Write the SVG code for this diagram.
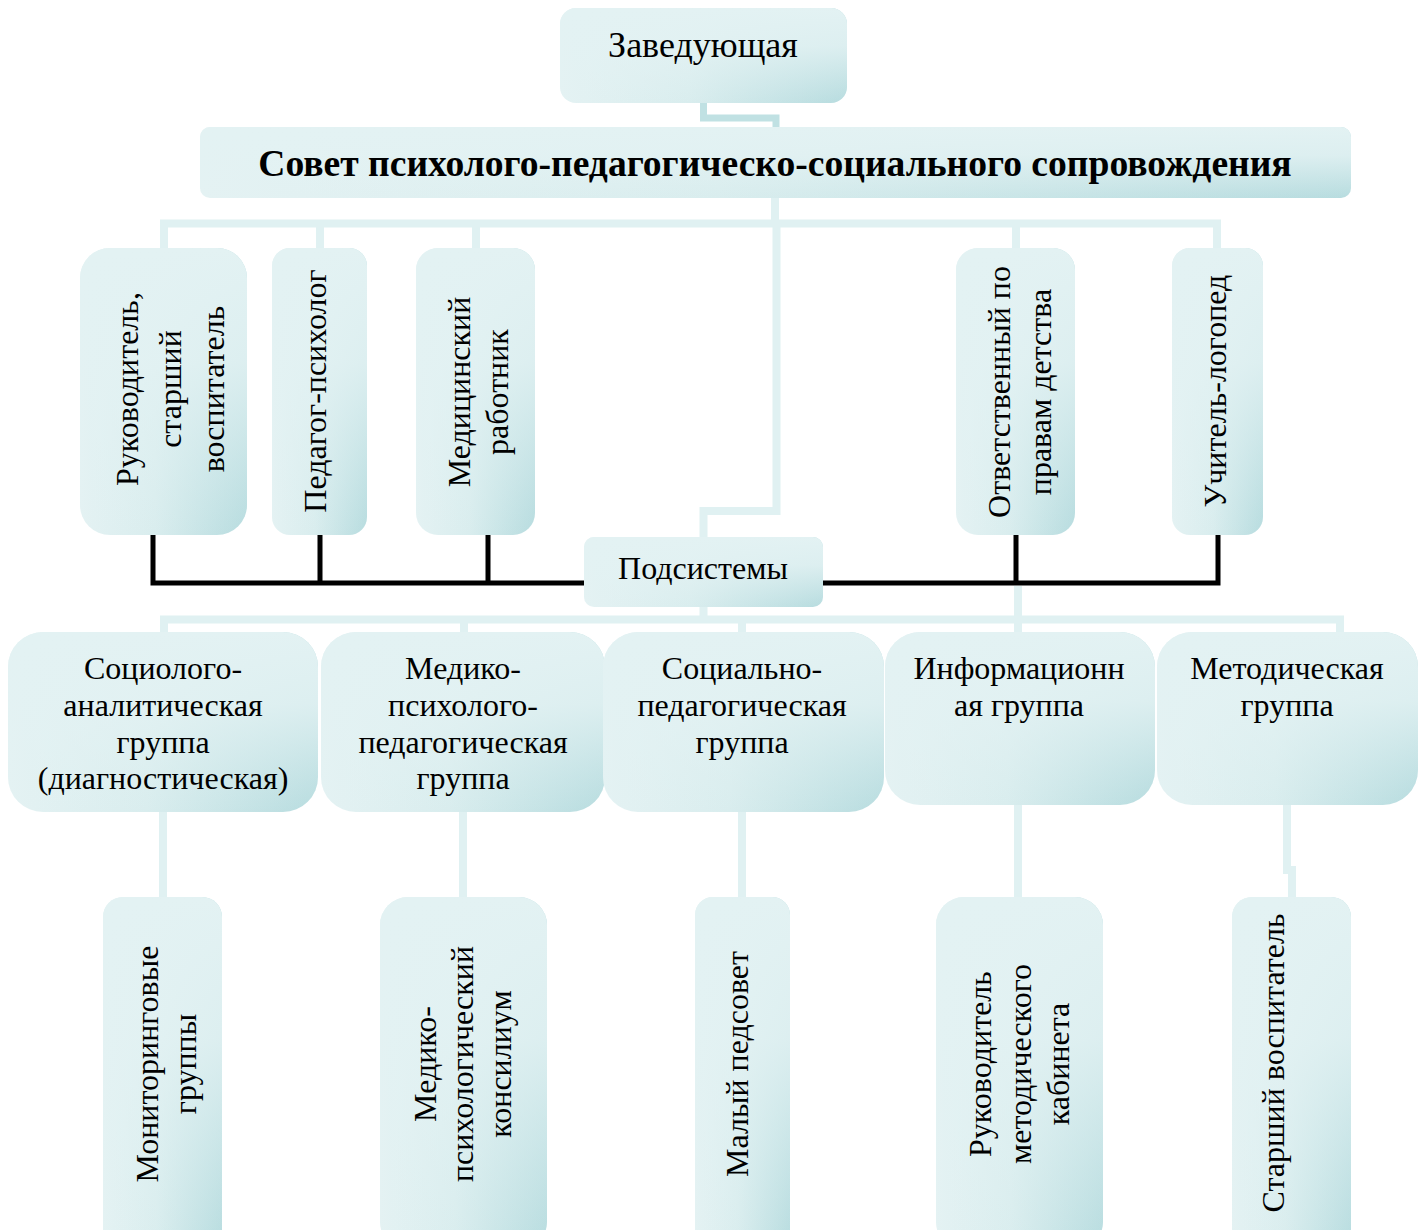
<svg xmlns="http://www.w3.org/2000/svg" width="1424" height="1230" viewBox="0 0 1424 1230">
<defs>
<linearGradient id="h" x1="0" y1="0" x2="1" y2="0">
<stop offset="0" stop-color="#e4f2f3"/>
<stop offset="0.45" stop-color="#d9edee"/>
<stop offset="1" stop-color="#b7dcdf"/>
</linearGradient>
<linearGradient id="v" x1="0" y1="0" x2="0" y2="1">
<stop offset="0" stop-color="#e3f2f3" stop-opacity="1"/>
<stop offset="0.4" stop-color="#e3f2f3" stop-opacity="0.85"/>
<stop offset="1" stop-color="#e3f2f3" stop-opacity="0"/>
</linearGradient>
<style>
.base{fill:url(#h)}
.shade{fill:url(#v)}
.t{font-family:"Liberation Serif","Times New Roman",serif;font-size:32px;fill:#000;text-anchor:middle}
.big{font-size:36px}
.tb{font-family:"Liberation Serif","Times New Roman",serif;font-size:37.6px;font-weight:bold;fill:#000;text-anchor:middle}
.vt{font-family:"Liberation Serif","Times New Roman",serif;font-size:32px;fill:#000;text-anchor:middle;dominant-baseline:central}
.lc{fill:none;stroke:#e0f1f2;stroke-width:8}
.dc{fill:none;stroke:#c0e1e3;stroke-width:7}
.bk{fill:none;stroke:#000;stroke-width:5}
</style>
</defs>
<rect width="1424" height="1230" fill="#fff"/>
<g id="connectors">
<path class="dc" d="M703.5 100 V118 H776 V130"/>
<path class="lc" d="M775 196 V223.5 M164 250 V223.5 H1217 V250 M320 223.5 V250 M476 223.5 V250 M1016 223.5 V250"/>
<path class="lc" d="M776.5 223.5 V511 H703.5 V540"/>
<path class="lc" d="M703.5 605 V619.5 M164 635 V619.5 H1340 V635 M464 619.5 V635 M742 619.5 V635 M1018 586 V635"/>
<path class="lc" d="M163 810 V900 M463 810 V900 M742 810 V900 M1018 803 V900 M1287 803 V870 H1292 V900"/>
<path class="bk" d="M153 533 V583 H587 M320 533 V583 M488 533 V583"/>
<path class="bk" d="M821 583 H1218 V533 M1016 533 V583"/>
</g>
<g id="n-zav">
<rect class="base" x="560" y="8" width="287" height="95" rx="16"/>
<rect class="shade" x="560" y="8" width="287" height="95" rx="16"/>
<text class="t big" x="703" y="57">Заведующая</text>
</g>
<g id="n-sovet">
<rect class="base" x="200" y="127" width="1151" height="71" rx="10"/>
<rect class="shade" x="200" y="127" width="1151" height="71" rx="10"/>
<text class="tb" x="775" y="176">Совет психолого-педагогическо-социального сопровождения</text>
</g>
<g id="n-ruk">
<rect class="base" x="80" y="248" width="167" height="287" rx="30"/>
<rect class="shade" x="80" y="248" width="167" height="287" rx="30"/>
<g transform="translate(0 389) rotate(-90)">
<text class="vt" x="0" y="127">Руководитель,</text>
<text class="vt" x="0" y="170">старший</text>
<text class="vt" x="0" y="213">воспитатель</text>
</g>
</g>
<g id="n-psy">
<rect class="base" x="272" y="248" width="95" height="287" rx="18"/>
<rect class="shade" x="272" y="248" width="95" height="287" rx="18"/>
<g transform="translate(0 391) rotate(-90)">
<text class="vt" x="0" y="315">Педагог-психолог</text>
</g>
</g>
<g id="n-med">
<rect class="base" x="416" y="248" width="119" height="287" rx="22"/>
<rect class="shade" x="416" y="248" width="119" height="287" rx="22"/>
<g transform="translate(0 392) rotate(-90)">
<text class="vt" x="0" y="459">Медицинский</text>
<text class="vt" x="0" y="497">работник</text>
</g>
</g>
<g id="n-otv">
<rect class="base" x="956" y="248" width="119" height="287" rx="22"/>
<rect class="shade" x="956" y="248" width="119" height="287" rx="22"/>
<g transform="translate(0 392) rotate(-90)">
<text class="vt" x="0" y="999">Ответственный по</text>
<text class="vt" x="0" y="1040">правам детства</text>
</g>
</g>
<g id="n-log">
<rect class="base" x="1172" y="248" width="91" height="287" rx="18"/>
<rect class="shade" x="1172" y="248" width="91" height="287" rx="18"/>
<g transform="translate(0 391) rotate(-90)">
<text class="vt" x="0" y="1215">Учитель-логопед</text>
</g>
</g>
<g id="n-pod">
<rect class="base" x="584" y="537" width="239" height="70" rx="10"/>
<rect class="shade" x="584" y="537" width="239" height="70" rx="10"/>
<text class="t" x="703" y="579">Подсистемы</text>
</g>
<g id="s-soc">
<rect class="base" x="8" y="632" width="310" height="180" rx="35"/>
<rect class="shade" x="8" y="632" width="310" height="180" rx="35"/>
<text class="t" x="163" y="679">Социолого-</text>
<text class="t" x="163" y="716">аналитическая</text>
<text class="t" x="163" y="753">группа</text>
<text class="t" x="163" y="789">(диагностическая)</text>
</g>
<g id="s-med">
<rect class="base" x="321" y="632" width="284" height="180" rx="35"/>
<rect class="shade" x="321" y="632" width="284" height="180" rx="35"/>
<text class="t" x="463" y="679">Медико-</text>
<text class="t" x="463" y="716">психолого-</text>
<text class="t" x="463" y="753">педагогическая</text>
<text class="t" x="463" y="789">группа</text>
</g>
<g id="s-sp">
<rect class="base" x="603" y="632" width="281" height="180" rx="35"/>
<rect class="shade" x="603" y="632" width="281" height="180" rx="35"/>
<text class="t" x="742" y="679">Социально-</text>
<text class="t" x="742" y="716">педагогическая</text>
<text class="t" x="742" y="753">группа</text>
</g>
<g id="s-inf">
<rect class="base" x="885" y="632" width="270" height="173" rx="35"/>
<rect class="shade" x="885" y="632" width="270" height="173" rx="35"/>
<text class="t" x="1019" y="679">Информационн</text>
<text class="t" x="1019" y="716">ая группа</text>
</g>
<g id="s-met">
<rect class="base" x="1157" y="632" width="261" height="173" rx="35"/>
<rect class="shade" x="1157" y="632" width="261" height="173" rx="35"/>
<text class="t" x="1287" y="679">Методическая</text>
<text class="t" x="1287" y="716">группа</text>
</g>
<g id="b-mon">
<rect class="base" x="103" y="897" width="119" height="353" rx="20"/>
<rect class="shade" x="103" y="897" width="119" height="353" rx="20"/>
<g transform="translate(0 1064) rotate(-90)">
<text class="vt" x="0" y="147">Мониторинговые</text>
<text class="vt" x="0" y="185">группы</text>
</g>
</g>
<g id="b-kon">
<rect class="base" x="380" y="897" width="167" height="353" rx="28"/>
<rect class="shade" x="380" y="897" width="167" height="353" rx="28"/>
<g transform="translate(0 1064) rotate(-90)">
<text class="vt" x="0" y="425">Медико-</text>
<text class="vt" x="0" y="462">психологический</text>
<text class="vt" x="0" y="500">консилиум</text>
</g>
</g>
<g id="b-ped">
<rect class="base" x="695" y="897" width="95" height="353" rx="18"/>
<rect class="shade" x="695" y="897" width="95" height="353" rx="18"/>
<g transform="translate(0 1064) rotate(-90)">
<text class="vt" x="0" y="737">Малый педсовет</text>
</g>
</g>
<g id="b-kab">
<rect class="base" x="936" y="897" width="167" height="353" rx="28"/>
<rect class="shade" x="936" y="897" width="167" height="353" rx="28"/>
<g transform="translate(0 1064) rotate(-90)">
<text class="vt" x="0" y="980">Руководитель</text>
<text class="vt" x="0" y="1020">методического</text>
<text class="vt" x="0" y="1058">кабинета</text>
</g>
</g>
<g id="b-st">
<rect class="base" x="1232" y="897" width="119" height="353" rx="20"/>
<rect class="shade" x="1232" y="897" width="119" height="353" rx="20"/>
<g transform="translate(0 1063) rotate(-90)">
<text class="vt" x="0" y="1273">Старший воспитатель</text>
</g>
</g>
</svg>
